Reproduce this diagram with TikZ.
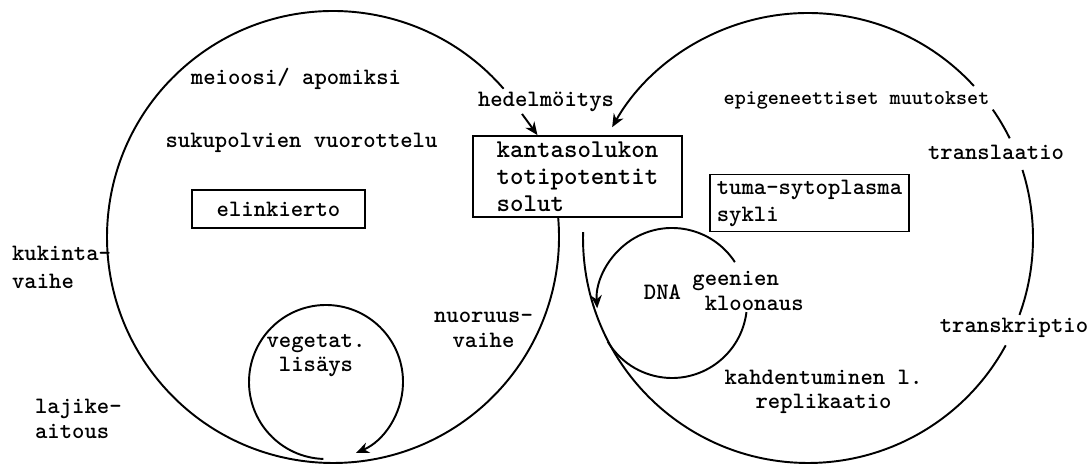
\documentclass[tikz,border=0pt]{standalone}
\usepackage{fontspec}
\renewcommand{\familydefault}{\ttdefault}
\usetikzlibrary{arrows.meta}
\usetikzlibrary{shapes}

\begin{document}
\begin{tikzpicture}[x = 0.02cm, y = 0.02cm]
\tikzstyle{LabelStyle}=[font = \fontsize{13.4}{14.2}\selectfont\bfseries,
                        inner sep = 1pt]
\tikzstyle{BoxStyle}=[LabelStyle,
                      draw,
                      line width = 1pt,
                      inner sep = 3pt]
\tikzstyle{CycleStyle}=[line width = 1.1pt]
\tikzstyle{ArrowStyle}=[CycleStyle, -{Stealth[length = 2.6mm, width = 2.2mm]}]
\useasboundingbox (0,0) rectangle (1091,465);
\coordinate (lc) at (333,228);
\coordinate (rc) at (808,227);
\coordinate (vc) at (326,83);
\coordinate (dc) at (672,162);
\node[LabelStyle] (meio) at (296,386) {meioosi/ apomiksi};
\node[LabelStyle] (suku) at (301.5,322) {sukupolvien vuorottelu};
\node[BoxStyle, minimum width = 3.46cm, minimum height = 0.76cm] (elin) at (278.5,256) {elinkierto};
\node[LabelStyle] (hede) at (546,363) {hedelmöitys};
\node[BoxStyle, font = \fontsize{14.6}{15.5}\selectfont\bfseries, align = left,
      minimum width = 4.18cm, minimum height = 1.62cm] (kanta) at (577.5,288.5) {kantasolukon\\totipotentit\\solut};
\node[LabelStyle, font = \fontsize{12}{14.2}\selectfont\bfseries] (epig) at (856.5,365) {epigeneettiset muutokset};
\node[LabelStyle] (transl) at (996,313) {translaatio};
\node[BoxStyle, font = \fontsize{13.4}{15.3}\selectfont\bfseries, align = left,
      minimum width = 3.98cm, minimum height = 1.04cm] (tuma) at (809.5,262) {tuma-sytoplasma\\sykli};
\node[LabelStyle, font = \fontsize{13.4}{15.9}\selectfont\bfseries, anchor = west, align = left] (kuk) at (10,198) {kukinta-\\vaihe};
\node[LabelStyle, anchor = west, align = left] (laj) at (33,46.5) {lajike-\\aitous};
\node[LabelStyle, font = \fontsize{13.4}{13.5}\selectfont\bfseries, align = center] (veg) at (316,109.5) {vegetat.\\lisäys};
\node[LabelStyle, align = center] (nuor) at (483.5,135.5) {nuoruus-\\vaihe};
\node[LabelStyle] (dna) at (662.5,173) {DNA};
\node[LabelStyle, align = left] (geen) at (748,174.5) {geenien\\\phantom{k}kloonaus};
\node[LabelStyle, font = \fontsize{13.4}{13.5}\selectfont\bfseries, align = center] (kahd) at (823.5,73.5) {kahdentuminen l.\\replikaatio};
\node[LabelStyle] (transk) at (1014,137) {transkriptio};
\draw[CycleStyle] (lc) ++(41:226) arc[start angle = 41, end angle = 365, radius = 226];
\draw[CycleStyle] (rc) ++(178.5:225) arc[start angle = 178.5, end angle = 331.5, radius = 225];
\draw[CycleStyle] (rc) ++(340:225) arc[start angle = 340, end angle = 377.6, radius = 225];
\draw[CycleStyle] (rc) ++(26.3:225) arc[start angle = 26.3, end angle = 34.8, radius = 225];
\draw[ArrowStyle] (rc) ++(42.5:225) arc[start angle = 42.5, end angle = 150.5, radius = 225];
\draw[ArrowStyle] (vc) ++(268:77) arc[start angle = 268, end angle = -67, radius = 77];
\draw[ArrowStyle] (dc) ++(33:75) arc[start angle = 33, end angle = 184, radius = 75];
\draw[CycleStyle] (dc) ++(-7:75) arc[start angle = -7, end angle = -149, radius = 75];
\draw[ArrowStyle] ([xshift = -0.48cm]hede.south) -- ([xshift = -0.8cm]kanta.north);
\end{tikzpicture}
\end{document}
